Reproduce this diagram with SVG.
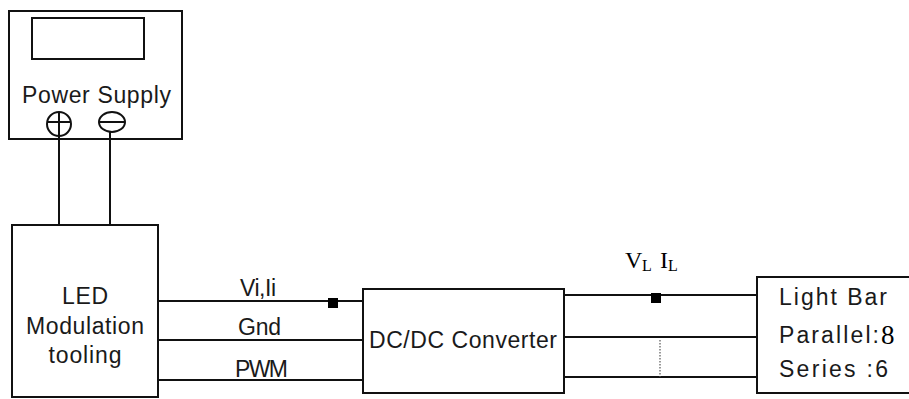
<svg xmlns="http://www.w3.org/2000/svg" width="909" height="399" viewBox="0 0 909 399">
<style>
.box{fill:#fff;stroke:#111;stroke-width:2}
.ln{stroke:#111;stroke-width:2;fill:none}
.t{font-family:"Liberation Sans",Arial,sans-serif;font-size:23px;fill:#1a1a1a}
.s{font-family:"Liberation Serif","Times New Roman",serif;fill:#000}
.dot{fill:#000}
</style>
<rect width="909" height="399" fill="#fff"/>
<g id="connectors">
<line class="ln" x1="59" y1="136" x2="59" y2="225"/>
<line class="ln" x1="110" y1="133" x2="110" y2="225"/>
<line class="ln" x1="158" y1="301" x2="363" y2="301"/>
<line class="ln" x1="158" y1="340" x2="363" y2="340"/>
<line class="ln" x1="158" y1="380" x2="363" y2="380"/>
<line class="ln" x1="564" y1="295" x2="757" y2="295"/>
<line class="ln" x1="564" y1="337" x2="757" y2="337"/>
<line class="ln" x1="564" y1="377" x2="757" y2="377"/>
<line x1="660" y1="340" x2="660" y2="377" stroke="#555" stroke-width="1.2" stroke-dasharray="1.5,1.5"/>
<rect class="dot" x="328" y="298" width="10" height="10"/>
<rect class="dot" x="651" y="293" width="10" height="10"/>
<text class="t" x="240" y="296" textLength="36" lengthAdjust="spacing">Vi,Ii</text>
<text class="t" x="238" y="335" textLength="43" lengthAdjust="spacing">Gnd</text>
<text class="t" x="235" y="377" textLength="53" lengthAdjust="spacing">PWM</text>
<text class="s" font-size="24"><tspan x="625" y="268">V</tspan><tspan x="642" y="271" font-size="16">L</tspan><tspan x="660" y="268">I</tspan><tspan x="668" y="271" font-size="16">L</tspan></text>
</g>
<g id="power-supply">
<rect class="box" x="9" y="11" width="173" height="128"/>
<rect class="box" x="32" y="18" width="112" height="41"/>
<text class="t" x="22" y="103" textLength="149" lengthAdjust="spacing">Power Supply</text>
<ellipse class="ln" cx="59" cy="124" rx="12" ry="12"/>
<line class="ln" x1="59" y1="112" x2="59" y2="139"/>
<line class="ln" x1="47" y1="122" x2="71" y2="122"/>
<ellipse class="ln" cx="112" cy="122" rx="13" ry="10"/>
<line class="ln" x1="99" y1="122" x2="125" y2="122"/>
<line class="ln" x1="110" y1="132" x2="110" y2="139"/>
</g>
<g id="led-modulation">
<rect class="box" x="12" y="225" width="146" height="172"/>
<text class="t" x="85" y="304" text-anchor="middle" textLength="46" lengthAdjust="spacing">LED</text>
<text class="t" x="85" y="334" text-anchor="middle" textLength="118" lengthAdjust="spacing">Modulation</text>
<text class="t" x="85" y="363" text-anchor="middle" textLength="73" lengthAdjust="spacing">tooling</text>
</g>
<g id="dcdc-converter">
<rect class="box" x="363" y="289" width="201" height="104"/>
<text class="t" x="369" y="348" textLength="188" lengthAdjust="spacing">DC/DC Converter</text>
</g>
<g id="light-bar">
<rect class="box" x="757" y="277" width="170" height="116"/>
<text class="t" x="779" y="305" textLength="108" lengthAdjust="spacing">Light Bar</text>
<text class="t" x="779" y="343" textLength="100" lengthAdjust="spacing">Parallel:</text>
<text class="s" x="881" y="344" font-size="27">8</text>
<text class="t" x="779" y="377" textLength="109" lengthAdjust="spacing">Series :6</text>
</g>
</svg>
